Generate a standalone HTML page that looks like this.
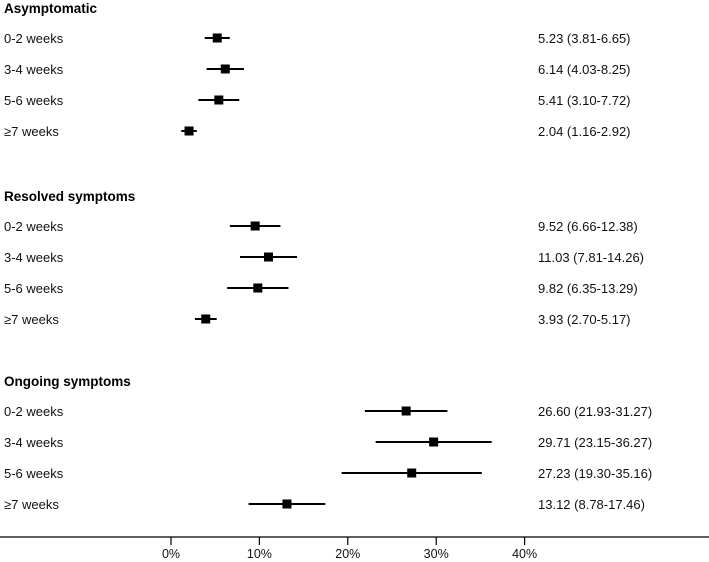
<!DOCTYPE html>
<html><head><meta charset="utf-8"><style>
body{margin:0;background:#fff}
svg{display:block;font-family:"Liberation Sans",sans-serif}
</style></head><body>
<svg id="c" width="709" height="562"></svg>
<script>
const groups=["Asymptomatic","Resolved symptoms","Ongoing symptoms"];
const rowLabels=["0-2 weeks","3-4 weeks","5-6 weeks","≥7 weeks"];
const estimates=[5.23,6.14,5.41,2.04, 9.52,11.03,9.82,3.93, 26.60,29.71,27.23,13.12];
const lowers=[3.81,4.03,3.10,1.16, 6.66,7.81,6.35,2.70, 21.93,23.15,19.30,8.78];
const uppers=[6.65,8.25,7.72,2.92, 12.38,14.26,13.29,5.17, 31.27,36.27,35.16,17.46];
const ticks=[0,10,20,30,40];
const tickLabels=["0%","10%","20%","30%","40%"];
const NS="http://www.w3.org/2000/svg";
const svg=document.getElementById('c');
const x=v=>171+v*8.84;
const groupY=[8,196,381];
const rowStep=31;
function mk(t,a){const e=document.createElementNS(NS,t);for(const k in a)e.setAttribute(k,a[k]);svg.appendChild(e);return e;}
groups.forEach((g,gi)=>{
  const t=mk('text',{x:4,y:groupY[gi]+5,'font-size':13.5,'font-weight':'bold',fill:'#000'});
  t.textContent=g;
  
  
  rowLabels.forEach((r,ri)=>{
    const i=gi*4+ri;
    const yy=groupY[gi]+rowStep*(ri+1)-1;
    const l=mk('text',{x:4,y:yy+5,'font-size':13,fill:'#111'});
    l.textContent=r;
    
    
    const ci=mk('line',{x1:x(lowers[i]),x2:x(uppers[i]),y1:yy,y2:yy,stroke:'#000','stroke-width':2});
    
    
    const m=mk('rect',{x:x(estimates[i])-4.5,y:yy-4.5,width:9,height:9,fill:'#000'});
    
    
    const v=mk('text',{x:538,y:yy+5,'font-size':13,fill:'#111'});
    v.textContent=estimates[i].toFixed(2)+" ("+lowers[i].toFixed(2)+"-"+uppers[i].toFixed(2)+")";
    
    
  });
});
const ax=mk('line',{x1:0,x2:709,y1:537,y2:537,stroke:'#000','stroke-width':1.2});


ticks.forEach((t,i)=>{
  const tk=mk('line',{x1:x(t),x2:x(t),y1:537,y2:545,stroke:'#000','stroke-width':1.2});
  
  
  const tl=mk('text',{x:x(t),y:558,'font-size':12.5,'text-anchor':'middle',fill:'#111'});
  tl.textContent=tickLabels[i];
  
  
});
</script>
</body></html>
